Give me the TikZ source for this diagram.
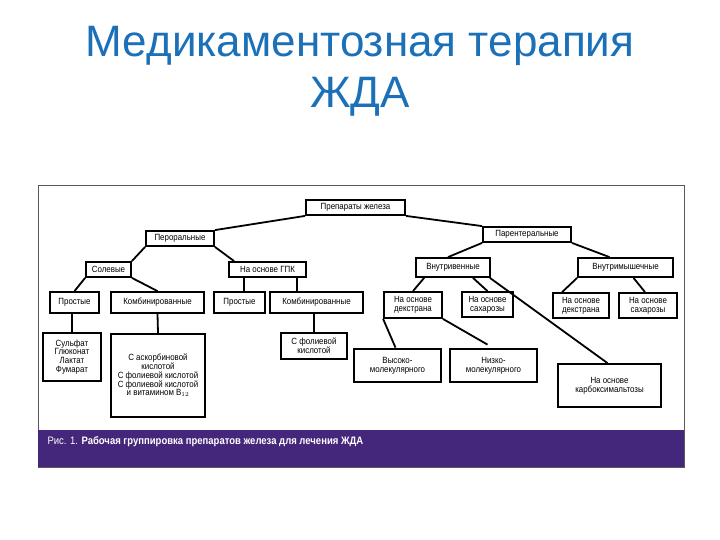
\documentclass[tikz,border=0pt]{standalone}
\usepackage{fontspec}
\setmainfont{Liberation Sans}
\newfontfamily\narrowfont[FakeStretch=0.88]{Liberation Sans}
\usepackage{tikz}

\definecolor{titleblue}{RGB}{28,112,184}
\definecolor{bandpurple}{RGB}{68,39,122}

\tikzset{
  box/.style={draw, line width=1.8pt, fill=white, inner sep=1pt, align=center,
    font=\narrowfont\fontsize{9}{8.8}\selectfont},
  thickbox/.style={box, line width=2.8pt},
  link/.style={line width=1.8pt},
}

\begin{document}
\begin{tikzpicture}[x=1pt,y=1pt,yscale=-1,xscale=1]
\useasboundingbox (0,0) rectangle (720,540);

% Title
\node [anchor=base, font=\fontsize{44}{51}\selectfont, text=titleblue] (title1) at (360,57) {Медикаментозная терапия};
\node [anchor=base, font=\fontsize{44}{51}\selectfont, text=titleblue] (title2) at (360,108) {ЖДА};

% Frame and band
\draw [color=black!65, line width=0.8pt] (38,185) rectangle (684,467);
\fill [bandpurple] (38.4,430) rectangle (683.6,466.6);

% Caption
\node [anchor=west, text=white, font=\narrowfont\fontsize{10.8}{12}\selectfont] (caption) at (44,442)
  {Рис. 1. \textbf{Рабочая группировка препаратов железа для лечения ЖДА}};

% Boxes
\node [box, minimum width=99pt, minimum height=15pt] (prep) at (355.5,207.5) {Препараты железа};
\node [box, minimum width=68pt, minimum height=15pt] (peror) at (180,238.5) {Пероральные};
\node [box, minimum width=88pt, minimum height=15pt] (parent) at (527,234.5) {Парентеральные};
\node [box, minimum width=45pt, minimum height=15pt] (solev) at (108.5,269.5) {Солевые};
\node [box, minimum width=77pt, minimum height=15pt] (gpk) at (267.5,269.5) {На основе ГПК};
\node [box, minimum width=74pt, minimum height=19pt] (iv) at (453,267.5) {Внутривенные};
\node [box, minimum width=95pt, minimum height=19pt] (im) at (625.5,267.5) {Внутримышечные};
\node [box, minimum width=49pt, minimum height=21pt] (prost1) at (74.5,302.5) {Простые};
\node [box, minimum width=93pt, minimum height=21pt] (komb1) at (157.5,302.5) {Комбинированные};
\node [box, minimum width=51pt, minimum height=21pt] (prost2) at (239.5,302.5) {Простые};
\node [box, minimum width=93pt, minimum height=21pt] (komb2) at (316.5,302.5) {Комбинированные};
\node [box, minimum width=58pt, minimum height=26pt] (dex1) at (413,305) {На основе\\декстрана};
\node [box, minimum width=51pt, minimum height=25pt] (sach1) at (487.5,304.5) {На основе\\сахарозы};
\node [box, minimum width=56pt, minimum height=25pt] (dex2) at (581,305.5) {На основе\\декстрана};
\node [box, minimum width=58pt, minimum height=25pt] (sach2) at (648,305.5) {На основе\\сахарозы};
\node [box, minimum width=58pt, minimum height=48pt] (salts) at (72,357) {Сульфат\\Глюконат\\Лактат\\Фумарат};
\node [box, minimum width=94pt, minimum height=83pt] (ascorb) at (158,375.5)
  {С аскорбиновой\\кислотой\\С фолиевой кислотой\\С фолиевой кислотой\\и витамином B$_{12}$};
\node [box, minimum width=66pt, minimum height=26pt] (folic) at (314,346) {С фолиевой\\кислотой};
\node [thickbox, minimum width=87pt, minimum height=33pt] (high) at (397.5,365.5) {Высоко-\\молекулярного};
\node [thickbox, minimum width=87pt, minimum height=33pt] (low) at (493.5,365.5) {Низко-\\молекулярного};
\node [box, minimum width=103pt, minimum height=43pt] (carb) at (609.5,385.5) {На основе\\карбоксимальтозы};

% Links
\draw [link] (prep.south west) -- (peror.north east);
\draw [link] (prep.south east) -- (parent.north west);
\draw [link] (peror.south west) -- (solev.north east);
\draw [link] (peror.south east) -- ([xshift=6pt]gpk.north west);
\draw [link] (solev.south west) -- (prost1.north);
\draw [link] (solev.south east) -- (komb1.north);
\draw [link] ([xshift=16pt]gpk.south west) -- ([xshift=16pt]gpk.south west |- prost2.north);
\draw [link] ([xshift=-10pt]gpk.south east) -- ([xshift=-10pt]gpk.south east |- komb2.north);
\draw [link] (salts.north |- prost1.south) -- (salts.north);
\draw [link] (komb1.south) -- (ascorb.north);
\draw [link] (folic.north |- komb2.south) -- (folic.north);
\draw [link] (parent.south west) -- ([xshift=-5pt]iv.north);
\draw [link] (parent.south east) -- ([xshift=-16pt]im.north);
\draw [link] ([xshift=9pt]iv.south west) -- (dex1.north);
\draw [link] ([xshift=20pt]iv.south) -- (sach1.north);
\draw [link] ([xshift=-1pt]iv.south east) -- ([xshift=-2pt]carb.north);
\draw [link] (im.south west) -- ([xshift=10pt]dex2.north west);
\draw [link] ([xshift=8pt]im.south) -- ([xshift=-3pt]sach2.north);
\draw [link] (dex1.south west) -- ([xshift=-2pt]high.north);
\draw [link] (dex1.south east) -- ([xshift=-6pt,yshift=-3pt]low.north);

\end{tikzpicture}
\end{document}
